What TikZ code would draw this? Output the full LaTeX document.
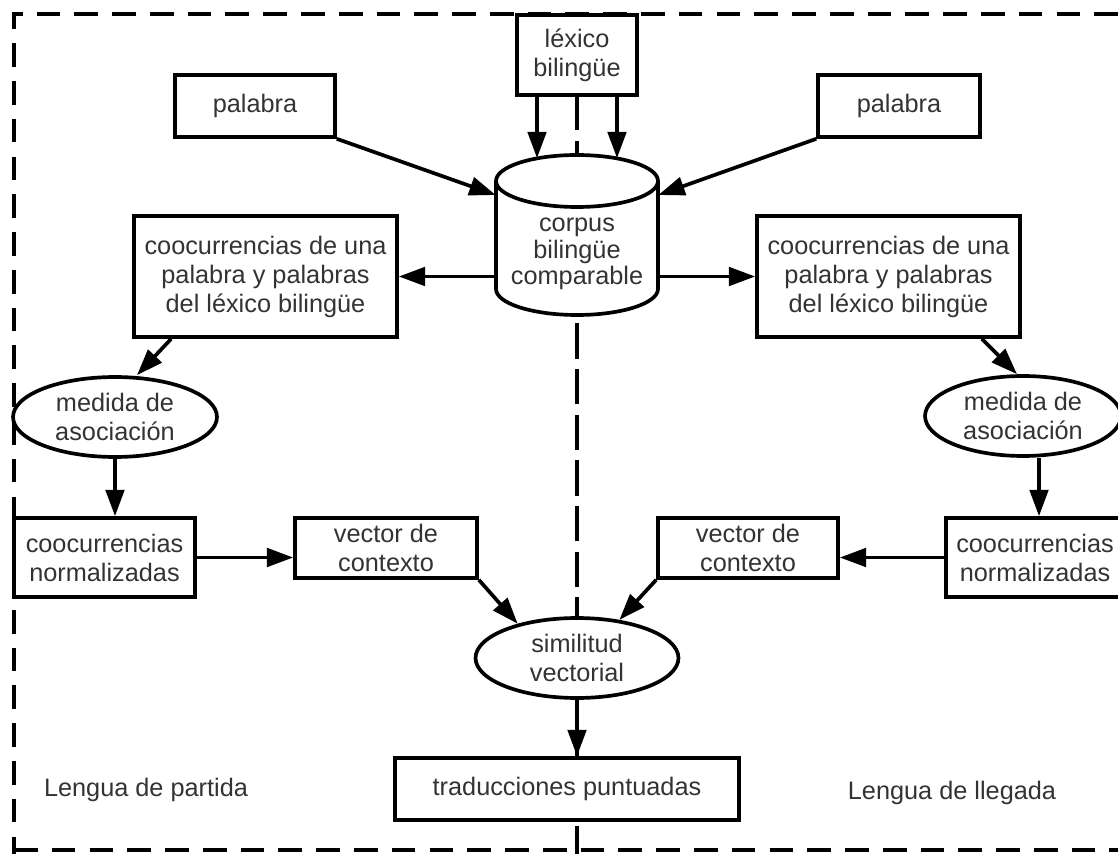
\documentclass[tikz,border=0pt]{standalone}
\usepackage{fontspec}
\setmainfont{Liberation Sans}
\usetikzlibrary{arrows.meta,shapes.geometric}

\begin{document}
\begin{tikzpicture}[x=0.02cm, y=-0.02cm,
    every node/.style={font=\fontsize{14.4}{16.5}\selectfont, text=black!80},
    box/.style={draw, line width=2.1pt, fill=white, align=center, inner sep=0pt},
    oval/.style={ellipse, draw, line width=2.1pt, fill=white, align=center, inner sep=0pt},
    arr/.style={-{Triangle[length=15pt,width=10.5pt]}, line width=2.1pt},
    frame/.style={line width=2.1pt, dash pattern=on 13.5pt off 8pt},
    midline/.style={line width=2pt, dash pattern=on 20pt off 6pt}]

    % Clip to the visible area
    \clip (0,0) rectangle (1118,854);

    % Dashed frame and the line between both languages
    \draw[frame] (1118,14) -- (14,14) -- (14,854);
    \draw[frame] (14,850) -- (1118,850);
    \draw[midline] (577,95) -- (577,854);

    % Top row
    \node[box, minimum width=2.4cm, minimum height=1.6cm] (lex) at (577,55) {léxico\\bilingüe};
    \node[box, minimum width=3.2cm, minimum height=1.24cm] (palL) at (255,106) {palabra};
    \node[box, minimum width=3.24cm, minimum height=1.24cm] (palR) at (899,106) {palabra};

    % Cylinder for the corpus
    \filldraw[fill=white, line width=2.1pt] (496,181) -- (496,289) arc (180:360:1.62cm and 0.52cm) -- (658,181);
    \filldraw[fill=white, line width=2.1pt] (577,181) ellipse (1.62cm and 0.52cm);
    \node[minimum width=3.24cm, minimum height=3.2cm, inner sep=0pt] (corpus) at (577,235) {};
    \node[align=center, font=\fontsize{14.4}{15}\selectfont] (corpusTxt) at (577,254) {corpus\\bilingüe\\comparable};

    % Both sides
    \node[box, minimum width=5.26cm, minimum height=2.42cm] (coocL) at (265.5,276.5) {coocurrencias de una\\palabra y palabras\\del léxico bilingüe};
    \node[box, minimum width=5.26cm, minimum height=2.42cm] (coocR) at (888.5,276.5) {coocurrencias de una\\palabra y palabras\\del léxico bilingüe};
    \node[oval, minimum width=4.08cm, minimum height=1.6cm] (medL) at (115,417) {medida de\\asociación};
    \node[oval, minimum width=3.92cm, minimum height=1.6cm] (medR) at (1023,416) {medida de\\asociación};
    \node[box, minimum width=3.62cm, minimum height=1.58cm] (normL) at (104.5,557.5) {coocurrencias\\normalizadas};
    \node[box, minimum width=3.56cm, minimum height=1.58cm] (normR) at (1035,557.5) {coocurrencias\\normalizadas};
    \node[box, minimum width=3.64cm, minimum height=1.2cm] (vecL) at (386,548) {vector de\\contexto};
    \node[box, minimum width=3.6cm, minimum height=1.2cm] (vecR) at (748,548) {vector de\\contexto};

    % Bottom
    \node[oval, minimum width=4.06cm, minimum height=1.6cm] (sim) at (577,658) {similitud\\vectorial};
    \node[box, minimum width=6.88cm, minimum height=1.24cm] (trad) at (567,789) {traducciones puntuadas};
    \node (partida) at (146,790) {Lengua de partida};
    \node (llegada) at (952,793) {Lengua de llegada};

    % Arrows
    \draw[arr] ([xshift=-0.8cm]lex.south) -- ([xshift=-0.8cm,yshift=-0.07cm]corpus.north);
    \draw[arr] ([xshift=0.8cm]lex.south) -- ([xshift=0.8cm,yshift=-0.07cm]corpus.north);
    \draw[arr] (palL.south east) -- ([yshift=0.8cm]corpus.west);
    \draw[arr] (palR.south west) -- ([yshift=0.8cm]corpus.east);
    \draw[arr] (corpus.west |- coocL.east) -- (coocL.east);
    \draw[arr] (corpus.east |- coocR.west) -- (coocR.west);
    \draw[arr] ([xshift=0.78cm]coocL.south west) -- ([xshift=0.44cm]medL.north);
    \draw[arr] ([xshift=-0.8cm]coocR.south east) -- ([xshift=-0.12cm]medR.north);
    \draw[arr] (medL.south) -- (medL.south |- normL.north);
    \draw[arr] ([xshift=0.32cm]medR.south) -- ([xshift=0.32cm]medR.south |- normR.north);
    \draw[arr] (normL.east) -- (normL.east -| vecL.west);
    \draw[arr] (normR.west) -- (normR.west -| vecR.east);
    \draw[arr] (vecL.south east) -- (sim.150);
    \draw[arr] (vecR.south west) -- (sim.42);
    \draw[arr] (sim.south) -- (sim.south |- trad.north);

\end{tikzpicture}
\end{document}
